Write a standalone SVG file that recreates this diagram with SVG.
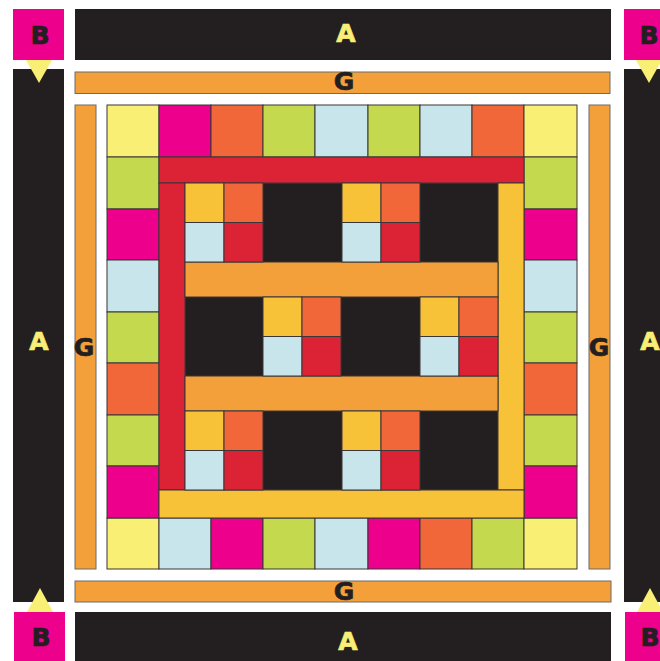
<svg xmlns="http://www.w3.org/2000/svg" xmlns:xlink="http://www.w3.org/1999/xlink" width="660" height="661" viewBox="0 0 660 661">
<style>
.k{fill:#231F20}
.m{fill:#EC008C}
.y{fill:#F9EF74}
.l{fill:#C4D94E}
.b{fill:#C7E5EA}
.o{fill:#F26739}
.r{fill:#DC2336}
.g{fill:#F3A03B}
.gy{fill:#F8C238}
.c{stroke:#3a3536;stroke-width:1}
.gs{stroke:#6d6a6b;stroke-width:1}
text{font-family:"DejaVu Sans","Liberation Sans",sans-serif;font-weight:bold;font-size:25px;text-anchor:middle;stroke-width:0.7}
.ty{fill:#F9EF74;stroke:#F9EF74}
.td{fill:#231F20;stroke:#231F20}
</style>
<defs>
<g id="fp">
<rect class="gy c" x="0" y="0" width="39" height="39.5"/>
<rect class="o c" x="39" y="0" width="39" height="39.5"/>
<rect class="b c" x="0" y="39.5" width="39" height="39.5"/>
<rect class="r c" x="39" y="39.5" width="39" height="39.5"/>
</g>
</defs>
<rect width="660" height="661" fill="#ffffff"/>
<g id="outer">
<rect class="k" x="75" y="9" width="536" height="51"/>
<rect class="k" x="75" y="612" width="536" height="49"/>
<rect class="k" x="13" y="69" width="51" height="533"/>
<rect class="k" x="624" y="69" width="40" height="533"/>
<rect class="m" x="13" y="9" width="51" height="51"/>
<rect class="m" x="624" y="9" width="40" height="51"/>
<rect class="m" x="14" y="612" width="51" height="49"/>
<rect class="m" x="625" y="612" width="40" height="49"/>
<polygon class="y" points="26,60 52,60 39,83"/>
<polygon class="y" points="636,60 662,60 649,83"/>
<polygon class="y" points="27,612 53,612 40,588"/>
<polygon class="y" points="637,612 663,612 650,588"/>
</g>
<g id="g-borders">
<rect class="g gs" x="75" y="72" width="535" height="21.5"/>
<rect class="g gs" x="75" y="581" width="536" height="21"/>
<rect class="g gs" x="75" y="105" width="21" height="464"/>
<rect class="g gs" x="589" y="105" width="21" height="464"/>
</g>
<g id="pieced-border">
<rect class="y c" x="107" y="105" width="52" height="52"/>
<rect class="m c" x="159" y="105" width="52" height="52"/>
<rect class="o c" x="211" y="105" width="52" height="52"/>
<rect class="l c" x="263" y="105" width="52" height="52"/>
<rect class="b c" x="315" y="105" width="53" height="52"/>
<rect class="l c" x="368" y="105" width="52" height="52"/>
<rect class="b c" x="420" y="105" width="52" height="52"/>
<rect class="o c" x="472" y="105" width="52" height="52"/>
<rect class="y c" x="524" y="105" width="53" height="52"/>
<rect class="y c" x="107" y="518" width="52" height="51"/>
<rect class="b c" x="159" y="518" width="52" height="51"/>
<rect class="m c" x="211" y="518" width="52" height="51"/>
<rect class="l c" x="263" y="518" width="52" height="51"/>
<rect class="b c" x="315" y="518" width="53" height="51"/>
<rect class="m c" x="368" y="518" width="52" height="51"/>
<rect class="o c" x="420" y="518" width="52" height="51"/>
<rect class="l c" x="472" y="518" width="52" height="51"/>
<rect class="y c" x="524" y="518" width="53" height="51"/>
<rect class="l c" x="107" y="157" width="52" height="52"/>
<rect class="m c" x="107" y="209" width="52" height="51"/>
<rect class="b c" x="107" y="260" width="52" height="52"/>
<rect class="l c" x="107" y="312" width="52" height="51"/>
<rect class="o c" x="107" y="363" width="52" height="52"/>
<rect class="l c" x="107" y="415" width="52" height="51"/>
<rect class="m c" x="107" y="466" width="52" height="52"/>
<rect class="l c" x="524" y="157" width="53" height="52"/>
<rect class="m c" x="524" y="209" width="53" height="51"/>
<rect class="b c" x="524" y="260" width="53" height="52"/>
<rect class="l c" x="524" y="312" width="53" height="51"/>
<rect class="o c" x="524" y="363" width="53" height="52"/>
<rect class="l c" x="524" y="415" width="53" height="51"/>
<rect class="m c" x="524" y="466" width="53" height="52"/>
</g>
<g id="center">
<rect class="k c" x="185" y="183" width="313" height="307"/>
<rect class="r c" x="159" y="157" width="365" height="26"/>
<rect class="r c" x="159" y="183" width="26" height="307"/>
<rect class="gy c" x="498" y="183" width="26" height="307"/>
<rect class="gy c" x="159" y="490" width="365" height="28"/>
<rect class="g c" x="185" y="262" width="313" height="35"/>
<rect class="g c" x="185" y="376" width="313" height="35"/>
<use xlink:href="#fp" x="185" y="183"/>
<use xlink:href="#fp" x="342" y="183"/>
<use xlink:href="#fp" x="263" y="297"/>
<use xlink:href="#fp" x="420" y="297"/>
<use xlink:href="#fp" x="185" y="411"/>
<use xlink:href="#fp" x="342" y="411"/>
</g>
<g id="labels">
<text class="td" x="40" y="44">B</text>
<text class="td" x="649" y="44">B</text>
<text class="td" x="41" y="646">B</text>
<text class="td" x="650" y="646">B</text>
<text class="ty" x="346" y="42">A</text>
<text class="ty" x="348" y="650">A</text>
<text class="ty" x="39" y="350">A</text>
<text class="ty" x="650" y="350">A</text>
<text class="td" x="344" y="90">G</text>
<text class="td" x="344" y="600">G</text>
<text class="td" x="84" y="356">G</text>
<text class="td" x="599" y="356">G</text>
</g>
</svg>
